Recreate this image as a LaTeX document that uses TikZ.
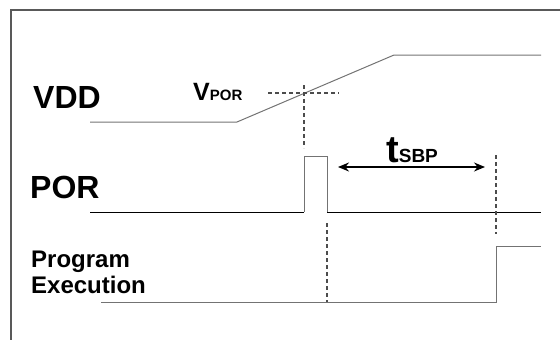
\documentclass[tikz,border=0pt]{standalone}
\usepackage{fontspec}
\setmainfont{Liberation Sans}
\usetikzlibrary{arrows.meta}
\begin{document}
\begin{tikzpicture}[x=1pt,y=-1pt,
  wave/.style={line width=1pt,draw=black!55},
  wavedark/.style={line width=1pt,draw=black},
  guide/.style={line width=1.4pt,draw=black!70,dash pattern=on 4pt off 3pt},
  lbl/.style={anchor=base west,inner sep=0pt,font=\bfseries},
  frameline/.style={line width=1.5pt,draw=black!65}]
\useasboundingbox (0,0) rectangle (560,340);
% frame
\coordinate (f1) at (11,341);
\coordinate (f2) at (11,10);
\coordinate (f3) at (561,10);
\draw[frameline] (f1) -- (f2) -- (f3);
% labels
\node[lbl,font=\bfseries\fontsize{32}{32}\selectfont] (vdd) at (33,108) {VDD};
\node[lbl,font=\bfseries\fontsize{32}{32}\selectfont] (por) at (30,198) {POR};
\node[lbl,font=\bfseries\fontsize{24}{24}\selectfont] (prog) at (31,267) {Program};
\node[lbl,font=\bfseries\fontsize{24}{24}\selectfont] (exec) at (31,293) {Execution};
\node[lbl] (vpor) at (193,100) {\bfseries\fontsize{25}{25}\selectfont V\fontsize{15}{15}\selectfont POR};
\node[lbl] (tsbp) at (386,162) {\bfseries\fontsize{38}{38}\selectfont t\fontsize{19}{19}\selectfont SBP};
% VDD waveform
\coordinate (v0) at (90,122);
\coordinate (v1) at (237,122);
\coordinate (v2) at (394,55);
\coordinate (v3) at (541,55);
\draw[wave] (v0) -- (v1) -- (v2) -- (v3);
% POR waveform
\coordinate (p0) at (90,212);
\coordinate (p1) at (304,212);
\coordinate (p2) at (304,156);
\coordinate (p3) at (327,156);
\coordinate (p4) at (327,212);
\coordinate (p5) at (541,212);
\draw[wavedark] (p0) -- (p1);
\draw[wave] (p1) -- (p2) -- (p3) -- (p4);
\draw[wavedark] (p4) -- (p5);
% Program execution waveform
\coordinate (e0) at (101,302);
\coordinate (e1) at (496,302);
\coordinate (e2) at (496,246);
\coordinate (e3) at (541,246);
\draw[wave] (e0) -- (e1) -- (e2) -- (e3);
% guides
\coordinate (h0) at (268,93);
\coordinate (h1) at (339,93);
\draw[guide] (h0) -- (h1);
\coordinate (g0) at (304,85);
\coordinate (g1) at (304,148);
\draw[guide] (g0) -- (g1);
\coordinate (g2) at (327,223);
\coordinate (g3) at (327,302);
\draw[guide] (g2) -- (g3);
\coordinate (g4) at (496,155);
\coordinate (g5) at (496,234);
\draw[guide] (g4) -- (g5);
% tSBP arrow
\coordinate (a0) at (338,167);
\coordinate (a1) at (485,167);
\draw[line width=1.5pt,{Stealth[length=11pt,width=9pt]}-{Stealth[length=11pt,width=9pt]}] (a0) -- (a1);
\end{tikzpicture}
\end{document}
